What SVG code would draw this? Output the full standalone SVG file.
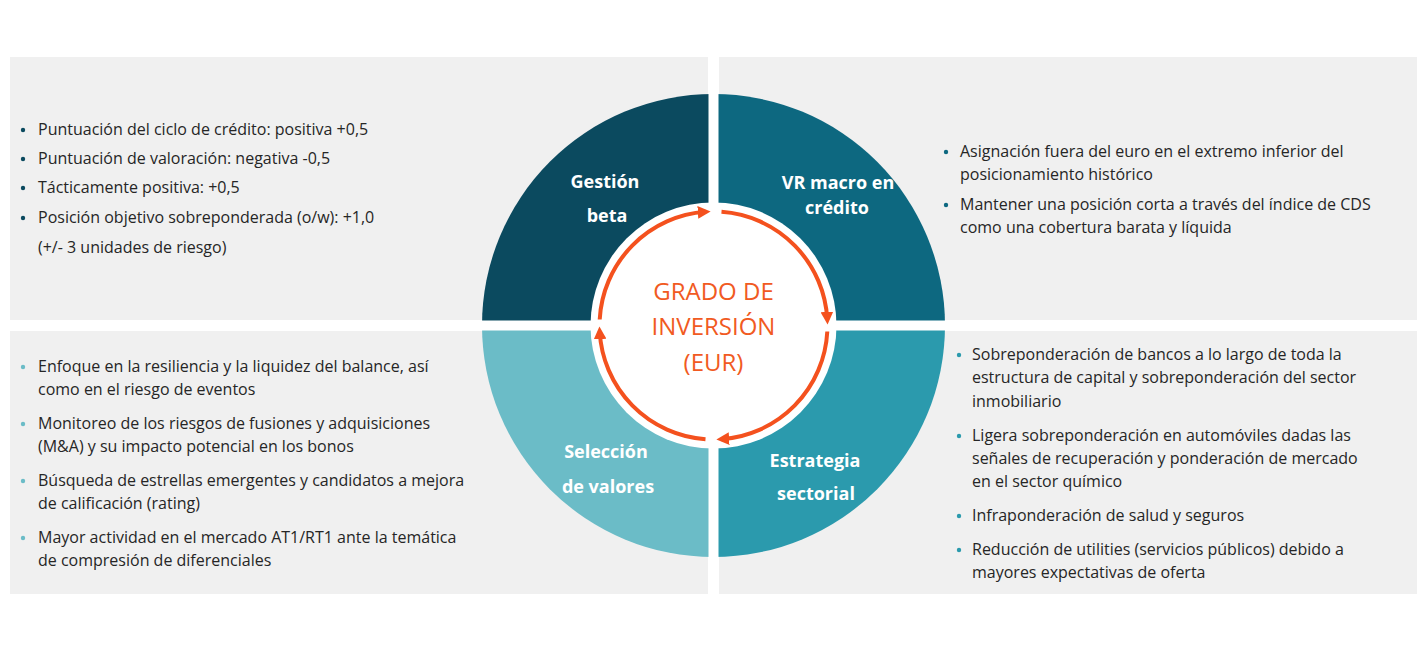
<svg xmlns="http://www.w3.org/2000/svg" width="1427" height="652" viewBox="0 0 1427 652">
<defs>
<style>
.panel{fill:#f0f0f0}
.t{font-family:"Open Sans","Liberation Sans",sans-serif;font-size:16px;fill:#262626}
.lbl{font-family:"Open Sans","Liberation Sans",sans-serif;font-size:18px;font-weight:bold;fill:#fff;text-anchor:middle}
.ctr{font-family:"Open Sans","Liberation Sans",sans-serif;font-size:24px;fill:#f15a22;text-anchor:middle}
.arc{fill:none;stroke:#f4511e;stroke-width:4;marker-end:url(#ah)}
</style>
<marker id="ah" viewBox="0 0 10 10" refX="6" refY="5" markerWidth="3.2" markerHeight="3.2" orient="auto" markerUnits="strokeWidth">
<path d="M0,0 L10,5 L0,10 Z" fill="#f4511e"/>
</marker>
</defs>
<rect width="1427" height="652" fill="#fff"/>
<g id="panels">
<rect class="panel" x="10" y="57" width="698" height="263"/>
<rect class="panel" x="719" y="57" width="698" height="263"/>
<rect class="panel" x="10" y="331" width="698" height="263"/>
<rect class="panel" x="719" y="331" width="698" height="263"/>
</g>
<g id="sectors">
<path d="M713.5,325.5 L482,325.5 A231.5,231.5 0 0 1 713.5,94 Z" fill="#0b4a5f"/>
<path d="M713.5,325.5 L713.5,94 A231.5,231.5 0 0 1 945,325.5 Z" fill="#0d6880"/>
<path d="M713.5,325.5 L945,325.5 A231.5,231.5 0 0 1 713.5,557 Z" fill="#2b9aad"/>
<path d="M713.5,325.5 L713.5,557 A231.5,231.5 0 0 1 482,325.5 Z" fill="#6bbcc7"/>
<rect x="708.5" y="57" width="10" height="537" fill="#fff"/>
<rect x="10" y="320.5" width="1407" height="10" fill="#fff"/>
<circle cx="713.5" cy="325.5" r="123" fill="#fff"/>
</g>
<g id="connectors">
<path class="arc" d="M599.7,319.5 A114,114 0 0 1 705.5,211.8"/>
<path class="arc" d="M721.5,211.8 A114,114 0 0 1 827.3,319.5"/>
<path class="arc" d="M827.3,331.5 A114,114 0 0 1 721.5,439.2"/>
<path class="arc" d="M705.5,439.2 A114,114 0 0 1 599.7,331.5"/>
</g>
<g id="center">
<text class="ctr" x="713.5" y="300">GRADO DE</text>
<text class="ctr" x="713.5" y="335">INVERSIÓN</text>
<text class="ctr" x="713.5" y="371">(EUR)</text>
</g>
<g id="gestion"><text class="lbl" x="605" y="188">Gestión</text><text class="lbl" x="607" y="222">beta</text></g>
<g id="vrmacro"><text class="lbl" x="838" y="189">VR macro en</text><text class="lbl" x="837" y="214">crédito</text></g>
<g id="seleccion"><text class="lbl" x="606" y="458">Selección</text><text class="lbl" x="608" y="493">de valores</text></g>
<g id="estrategia"><text class="lbl" x="815" y="467">Estrategia</text><text class="lbl" x="816" y="500">sectorial</text></g>
<g id="tl-text">
<g fill="#0b4a5f"><circle cx="23" cy="130" r="2.2"/><circle cx="23" cy="159" r="2.2"/><circle cx="23" cy="188" r="2.2"/><circle cx="23" cy="218" r="2.2"/></g>
<text class="t" x="38" y="135">Puntuación del ciclo de crédito: positiva +0,5</text>
<text class="t" x="38" y="164">Puntuación de valoración: negativa -0,5</text>
<text class="t" x="38" y="193">Tácticamente positiva: +0,5</text>
<text class="t" x="38" y="223">Posición objetivo sobreponderada (o/w): +1,0</text>
<text class="t" x="38" y="253">(+/- 3 unidades de riesgo)</text>
</g>
<g id="tr-text">
<g fill="#0d6880"><circle cx="946" cy="152" r="2.2"/><circle cx="946" cy="205" r="2.2"/></g>
<text class="t" x="960" y="157">Asignación fuera del euro en el extremo inferior del</text>
<text class="t" x="960" y="180">posicionamiento histórico</text>
<text class="t" x="960" y="210">Mantener una posición corta a través del índice de CDS</text>
<text class="t" x="960" y="233">como una cobertura barata y líquida</text>
</g>
<g id="bl-text">
<g fill="#6bbcc7"><circle cx="23" cy="367" r="2.2"/><circle cx="23" cy="424" r="2.2"/><circle cx="23" cy="481" r="2.2"/><circle cx="23" cy="538" r="2.2"/></g>
<text class="t" x="38" y="372">Enfoque en la resiliencia y la liquidez del balance, así</text>
<text class="t" x="38" y="395">como en el riesgo de eventos</text>
<text class="t" x="38" y="429">Monitoreo de los riesgos de fusiones y adquisiciones</text>
<text class="t" x="38" y="452">(M&amp;A) y su impacto potencial en los bonos</text>
<text class="t" x="38" y="486">Búsqueda de estrellas emergentes y candidatos a mejora</text>
<text class="t" x="38" y="509">de calificación (rating)</text>
<text class="t" x="38" y="543">Mayor actividad en el mercado AT1/RT1 ante la temática</text>
<text class="t" x="38" y="566">de compresión de diferenciales</text>
</g>
<g id="br-text">
<g fill="#2b9aad"><circle cx="959" cy="355" r="2.2"/><circle cx="959" cy="436" r="2.2"/><circle cx="959" cy="516" r="2.2"/><circle cx="959" cy="550" r="2.2"/></g>
<text class="t" x="972" y="360">Sobreponderación de bancos a lo largo de toda la</text>
<text class="t" x="972" y="383">estructura de capital y sobreponderación del sector</text>
<text class="t" x="972" y="407">inmobiliario</text>
<text class="t" x="972" y="441">Ligera sobreponderación en automóviles dadas las</text>
<text class="t" x="972" y="464">señales de recuperación y ponderación de mercado</text>
<text class="t" x="972" y="487">en el sector químico</text>
<text class="t" x="972" y="521">Infraponderación de salud y seguros</text>
<text class="t" x="972" y="555">Reducción de utilities (servicios públicos) debido a</text>
<text class="t" x="972" y="578">mayores expectativas de oferta</text>
</g>
</svg>
